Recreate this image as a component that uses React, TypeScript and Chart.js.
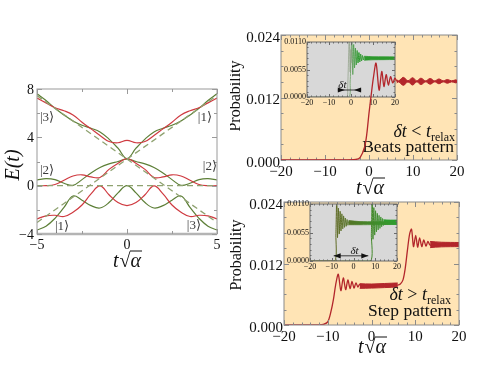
import React, { useEffect, useRef } from 'react';
import { Chart, registerables } from 'chart.js';

Chart.register(...registerables);

const SERIF = '"Liberation Serif", "DejaVu Serif", "Times New Roman", serif';

// ---------------- Left panel : E(t) ----------------
const T_LEFT = [-5, -4.5, -4, -3.5, -3, -2.5, -2, -1.5, -1, -0.5, 0, 0.5, 1, 1.5, 2, 2.5, 3, 3.5, 4, 4.5, 5];
const RED_UPPER = [7.25, 6.85, 6.45, 6.2, 5.85, 5.25, 4.7, 4.15, 3.65, 3.55, 3.75, 3.55, 3.65, 4.15, 4.7, 5.25, 5.85, 6.2, 6.45, 6.85, 7.25];
const GREEN_UPPER = [7.6, 7.05, 6.4, 5.85, 5.35, 5.0, 4.75, 4.45, 3.85, 3.1, 2.25, 3.1, 3.85, 4.45, 4.75, 5.0, 5.35, 5.85, 6.4, 7.05, 7.6];
const RED_MIDDLE = [0, 0, 0.1, 0.45, 0.8, 0.9, 0.72, 0.68, 1.35, 1.85, 2.25, 1.85, 1.35, 0.68, 0.72, 0.9, 0.8, 0.45, 0.1, 0, 0];
const GREEN_MIDDLE = [0.47, 0.58, 0.5, 0.2, 0.03, 0.5, 1.05, 1.5, 1.8, 2.0, 2.2, 2.0, 1.8, 1.5, 1.05, 0.5, 0.03, 0.2, 0.5, 0.58, 0.47];
const RED_LOWER = [-2.75, -2.5, -2.45, -2.55, -2.2, -1.6, -0.68, -0.02, -0.75, -1.4, -1.65, -1.4, -0.75, -0.02, -0.68, -1.6, -2.2, -2.55, -2.45, -2.5, -2.75];
const GREEN_LOWER = [-3.67, -3.35, -2.7, -1.8, -0.85, -1.2, -1.65, -1.85, -1.4, -0.6, 0, -0.6, -1.4, -1.85, -1.65, -1.2, -0.85, -1.8, -2.7, -3.35, -3.67];
const DIABATIC_T = [-5, 5];
const DIABATIC_RISING = [-3.05, 7.45];
const DIABATIC_FALLING = [7.45, -3.05];
const DIABATIC_FLAT = [0, 0];
const LEFT_X_TICKS = [-5, 0, 5];
const LEFT_Y_TICKS = [-4, 0, 4, 8];

// ---------------- Right panels : probability ----------------
const PROB_X_TICKS = [-20, -10, 0, 10, 20];
const PROB_Y_TICKS = [0, 0.012, 0.024];
const INSET_Y_TICKS = [0, 0.0055, 0.011];

// top: beats pattern
const TOP_T = [-20, -6, -3, -2, -1, -0.5, 0, 0.5, 1.0, 1.6, 2.3, 2.9, 3.4, 3.9, 4.4, 4.9, 5.4, 5.9, 6.3];
const TOP_P = [0, 0, 0.0001, 0.0005, 0.0025, 0.005, 0.009, 0.0125, 0.0158, 0.0186, 0.0134, 0.017, 0.0141, 0.0164, 0.0144, 0.016, 0.0148, 0.0157, 0.0151];
const TOP_BEAT_T = [6.3, 6.8, 7.8, 8.85, 9.9, 10.85, 11.8, 12.85, 13.9, 14.9, 15.9, 16.85, 17.8, 18.75, 19.7, 20];
const TOP_BEAT_MID = [0.0151, 0.0151, 0.0151, 0.0151, 0.0151, 0.0151, 0.0151, 0.0151, 0.0151, 0.0151, 0.0151, 0.0151, 0.0151, 0.0151, 0.0151, 0.0151];
const TOP_BEAT_HALF = [0.0003, 0.00012, 0.00077, 0.00011, 0.00071, 0.0001, 0.00061, 0.0001, 0.00054, 0.0001, 0.00046, 0.0001, 0.00036, 0.0001, 0.00029, 0.0002];

// bottom: step pattern
const BOT_T1 = [-20, -12, -11, -10, -9.3, -8.7, -8.2, -7.6, -7.0, -6.45, -5.9, -5.4, -4.9, -4.45, -4.0, -3.55, -3.1, -2.7];
const BOT_P1 = [0, 0, 0.0001, 0.0006, 0.0025, 0.005, 0.0078, 0.0099, 0.0067, 0.0092, 0.0069, 0.0088, 0.0071, 0.0085, 0.0072, 0.0082, 0.0074, 0.0079];
const BOT_PLATEAU1_T = [-2.7, 0, 3, 6];
const BOT_PLATEAU1_MID = [0.0076, 0.0076, 0.0077, 0.0078];
const BOT_PLATEAU1_HALF = [0.00045, 0.0004, 0.0004, 0.0004];
const BOT_T2 = [6, 6.6, 7.2, 7.7, 8.2, 8.7, 9.15, 9.6, 10.1, 10.55, 11.0, 11.5, 11.95, 12.45, 12.9, 13.4];
const BOT_P2 = [0.0078, 0.008, 0.0088, 0.011, 0.0145, 0.0177, 0.0187, 0.0153, 0.0175, 0.0152, 0.017, 0.0153, 0.0166, 0.0154, 0.0163, 0.0156];
const BOT_PLATEAU2_T = [13.4, 16, 20];
const BOT_PLATEAU2_MID = [0.0157, 0.0157, 0.0157];
const BOT_PLATEAU2_HALF = [0.0006, 0.00045, 0.0004];

// top inset
const TI_GHOST_T = [-20, -2.0, -1.5, -1.1, -0.8, -0.4, 0.0, 0.4];
const TI_GHOST_P = [0, 0, 0.002, 0.008, 0.0125, 0.005, 0.0095, 0.0068];
const TI_MAIN_T = [-20, -1.0, -0.4, 0.0, 0.35, 0.8, 1.2, 1.6, 2.0, 2.4, 2.8, 3.2, 3.6, 4.0, 4.4, 4.8, 5.2, 5.6, 6.0];
const TI_MAIN_P = [0, 0, 0.003, 0.008, 0.0125, 0.0045, 0.0105, 0.0058, 0.0098, 0.0064, 0.0093, 0.0068, 0.0089, 0.007, 0.0086, 0.0072, 0.0083, 0.0074, 0.0081];
const TI_BAND_T = [6, 10, 15, 20];
const TI_BAND_MID = [0.00775, 0.00775, 0.00775, 0.00775];
const TI_BAND_HALF = [0.0004, 0.0003, 0.00028, 0.00025];
const TI_ARROW_T = [-6, 4.6];
const TI_ARROW_P = 0.0014;
const TI_LABEL_AT = [-3.9, 0.0019];

// bottom inset
const BI_FIRST_T = [-20, -8.6, -8.1, -7.7, -7.35, -6.95, -6.55, -6.15, -5.75, -5.35, -4.95, -4.55, -4.15, -3.75, -3.35, -2.95, -2.55, -2.15];
const BI_FIRST_P = [0, 0, 0.005, 0.0125, 0.0045, 0.0102, 0.0052, 0.0096, 0.0058, 0.0091, 0.0062, 0.0087, 0.0065, 0.0083, 0.0067, 0.008, 0.0069, 0.0078];
const BI_FIRST_BAND_T = [-2.15, 3, 10, 20];
const BI_FIRST_BAND_MID = [0.0074, 0.0073, 0.0073, 0.0073];
const BI_FIRST_BAND_HALF = [0.0004, 0.0003, 0.00028, 0.00025];
const BI_SECOND_T = [-20, 7.7, 8.2, 8.6, 8.95, 9.35, 9.75, 10.15, 10.55, 10.95, 11.35, 11.75, 12.15, 12.55, 12.95, 13.35, 13.75];
const BI_SECOND_P = [0, 0, 0.005, 0.0125, 0.0042, 0.0103, 0.005, 0.0097, 0.0056, 0.0092, 0.006, 0.0088, 0.0063, 0.0085, 0.0066, 0.0082, 0.0068];
const BI_SECOND_BAND_T = [13.75, 17, 20];
const BI_SECOND_BAND_MID = [0.0075, 0.0075, 0.0075];
const BI_SECOND_BAND_HALF = [0.00045, 0.0004, 0.0004];
const BI_ARROW_T = [-9.1, 6.8];
const BI_ARROW_P = 0.001;
const BI_LABEL_AT = [0.5, 0.0014];

// ---------------- colours ----------------
const RED_L = '#cf3a40';
const GREEN_L = '#5d7f37';
const DASH_L = '#8fa270';
const RED_R = '#b3262b';
const ORANGE_BG = '#ffe4b5';
const GRAY_BG = '#d8d8d8';

type Box = { x: number; y: number; w: number; h: number };
type Area = { l: number; t: number; r: number; b: number };

const LEFT_BOX: Box = { x: 0, y: 60, w: 230, h: 260 };
const LEFT_AREA: Area = { l: 37, t: 89, r: 217, b: 234 };
const TOP_BOX: Box = { x: 230, y: 0, w: 260, h: 200 };
const TOP_AREA: Area = { l: 281, t: 35, r: 457, b: 160 };
const TI_BOX: Box = { x: 272, y: 36, w: 128, h: 74 };
const TI_AREA: Area = { l: 307, t: 42, r: 395, b: 97 };
const BOT_BOX: Box = { x: 230, y: 190, w: 260, h: 191 };
const BOT_AREA: Area = { l: 284, t: 202, r: 459, b: 325 };
const BI_BOX: Box = { x: 275, y: 198, w: 127, h: 76 };
const BI_AREA: Area = { l: 310, t: 204, r: 397, b: 261 };

const pts = (xs: number[], ys: number[]) => xs.map((x, i) => ({ x, y: ys[i] }));
const band = (xs: number[], mid: number[], half: number[], s: number) => xs.map((x, i) => ({ x, y: mid[i] + s * half[i] }));
const range = (a: number, b: number, st: number) => {
  const r: number[] = [];
  for (let v = a; v <= b + 1e-9; v += st) r.push(Math.round(v * 1e6) / 1e6);
  return r;
};
const minus = (s: string) => s.replace('-', '\u2212');

function axis(o: { min: number; max: number; ticks: number[]; fmt: (v: number) => string; size: number; fit: (s: any) => void; color?: string; padding?: number; labelOffset?: number }) {
  return {
    type: 'linear',
    min: o.min,
    max: o.max,
    grid: { display: false, drawTicks: false, tickLength: 0 },
    border: { display: false },
    afterBuildTicks: (s: any) => { s.ticks = o.ticks.map((v) => ({ value: v })); },
    afterFit: o.fit,
    ticks: {
      color: o.color ?? '#111',
      font: { family: SERIF, size: o.size },
      padding: o.padding ?? 3,
      autoSkip: false,
      maxRotation: 0,
      minRotation: 0,
      labelOffset: o.labelOffset ?? 0,
      callback: (v: any) => o.fmt(Number(v)),
    },
  };
}

type AxisSpec = { min: number; max: number; ticks: number[]; fmt: (v: number) => string; size: number; color?: string; padding?: number; labelOffset?: number };

type FrameSpec = { color: string; width: number; xMajor: number[]; xMinor: number[]; yMajor: number[]; yMinor: number[]; majorLen: number; minorLen: number; bottomWidth?: number; bottomColor?: string };

function deco(box: Box, spec: { bg?: string; frame?: FrameSpec; page?: (ctx: CanvasRenderingContext2D) => void; inChart?: (ctx: CanvasRenderingContext2D, chart: any) => void }) {
  return {
    id: 'deco',
    beforeDraw(chart: any) {
      if (!spec.bg) return;
      const a = chart.chartArea; const ctx = chart.ctx;
      ctx.save(); ctx.fillStyle = spec.bg; ctx.fillRect(a.left, a.top, a.right - a.left, a.bottom - a.top); ctx.restore();
    },
    afterDraw(chart: any) {
      const ctx: CanvasRenderingContext2D = chart.ctx; const a = chart.chartArea;
      const f = spec.frame;
      if (f) {
        ctx.save();
        ctx.strokeStyle = f.color; ctx.lineWidth = f.width;
        ctx.strokeRect(a.left, a.top, a.right - a.left, a.bottom - a.top);
        if (f.bottomWidth) {
          ctx.strokeStyle = f.bottomColor || f.color; ctx.lineWidth = f.bottomWidth;
          ctx.beginPath(); ctx.moveTo(a.left, a.bottom); ctx.lineTo(a.right, a.bottom); ctx.stroke();
        }
        ctx.strokeStyle = f.color; ctx.lineWidth = 1;
        const sx = chart.scales.x, sy = chart.scales.y;
        const xt = (v: number, len: number) => {
          const p = Math.round(sx.getPixelForValue(v)) + 0.5;
          ctx.beginPath(); ctx.moveTo(p, a.bottom); ctx.lineTo(p, a.bottom - len); ctx.moveTo(p, a.top); ctx.lineTo(p, a.top + len); ctx.stroke();
        };
        const yt = (v: number, len: number) => {
          const p = Math.round(sy.getPixelForValue(v)) + 0.5;
          ctx.beginPath(); ctx.moveTo(a.left, p); ctx.lineTo(a.left + len, p); ctx.moveTo(a.right, p); ctx.lineTo(a.right - len, p); ctx.stroke();
        };
        f.xMinor.forEach((v) => xt(v, f.minorLen));
        f.xMajor.forEach((v) => xt(v, f.majorLen));
        f.yMinor.forEach((v) => yt(v, f.minorLen));
        f.yMajor.forEach((v) => yt(v, f.majorLen));
        ctx.restore();
      }
      if (spec.inChart) { ctx.save(); spec.inChart(ctx, chart); ctx.restore(); }
      if (spec.page) { ctx.save(); ctx.translate(-box.x, -box.y); spec.page(ctx); ctx.restore(); }
    },
  };
}

function build(canvas: HTMLCanvasElement, box: Box, area: Area, x: AxisSpec, y: AxisSpec, datasets: any[], plugins: any[]) {
  const pad = { left: 0, top: area.t - box.y, right: box.x + box.w - area.r, bottom: 0 };
  const yw = area.l - box.x;
  const xh = box.y + box.h - area.b;
  return new Chart(canvas, {
    type: 'scatter',
    data: { datasets },
    options: {
      responsive: false,
      animation: false,
      devicePixelRatio: 1,
      events: [],
      layout: { padding: pad },
      plugins: { legend: { display: false }, tooltip: { enabled: false } },
      scales: {
        x: axis({ ...x, fit: (s: any) => { s.height = xh; } }),
        y: axis({ ...y, fit: (s: any) => { s.width = yw; } }),
      },
    } as any,
    plugins,
  });
}

function line(data: any[], color: any, width = 1.3, extra: any = {}) {
  return { data, showLine: true, borderColor: color, backgroundColor: color, borderWidth: width, pointRadius: 0, tension: 0.4, fill: false, ...extra };
}

type Seg = { t: string; font: string; dy?: number };
function rich(ctx: CanvasRenderingContext2D, segs: Seg[], x: number, y: number, align: 'left' | 'right' | 'center') {
  ctx.textAlign = 'left'; ctx.textBaseline = 'alphabetic';
  const ws = segs.map((s) => { ctx.font = s.font; return ctx.measureText(s.t).width; });
  const total = ws.reduce((a, b) => a + b, 0);
  let cx = align === 'left' ? x : align === 'right' ? x - total : x - total / 2;
  segs.forEach((s, i) => { ctx.font = s.font; ctx.fillText(s.t, cx, y + (s.dy || 0)); cx += ws[i]; });
}

function sqrtTitle(ctx: CanvasRenderingContext2D, cx: number, base: number, size: number) {
  const it = `italic ${size}px ${SERIF}`, rm = `${size}px ${SERIF}`;
  ctx.fillStyle = '#111'; ctx.strokeStyle = '#111';
  ctx.textAlign = 'left'; ctx.textBaseline = 'alphabetic';
  ctx.font = it; const wt = ctx.measureText('t').width;
  ctx.font = rm; const ws = ctx.measureText('\u221A').width;
  ctx.font = it; const wa = ctx.measureText('\u03B1').width;
  let x = cx - (wt + ws + wa + 1) / 2;
  ctx.font = it; ctx.fillText('t', x, base); x += wt + 1;
  ctx.font = rm; ctx.fillText('\u221A', x, base); x += ws;
  ctx.font = it; ctx.fillText('\u03B1', x, base);
  ctx.lineWidth = Math.max(1, size * 0.05);
  ctx.beginPath(); ctx.moveTo(x - 0.5, base - size * 0.8); ctx.lineTo(x + wa + 1, base - size * 0.8); ctx.stroke();
}

function rotText(ctx: CanvasRenderingContext2D, text: string, font: string, cx: number, cy: number) {
  ctx.save(); ctx.translate(cx, cy); ctx.rotate(-Math.PI / 2);
  ctx.font = font; ctx.fillStyle = '#111'; ctx.textAlign = 'center'; ctx.textBaseline = 'middle';
  ctx.fillText(text, 0, 0); ctx.restore();
}

function label(ctx: CanvasRenderingContext2D, text: string, x: number, y: number, align: CanvasTextAlign) {
  ctx.font = `13px ${SERIF}`; ctx.fillStyle = '#3a3a3a'; ctx.textAlign = align; ctx.textBaseline = 'middle';
  ctx.fillText(text, x, y);
}

function arrowAnn(ctx: CanvasRenderingContext2D, chart: any, ts: number[], p: number, inward: boolean, lab: number[]) {
  const sx = chart.scales.x, sy = chart.scales.y;
  const x1 = sx.getPixelForValue(ts[0]), x2 = sx.getPixelForValue(ts[1]), y = sy.getPixelForValue(p);
  ctx.strokeStyle = '#111'; ctx.fillStyle = '#111'; ctx.lineWidth = 0.8;
  ctx.beginPath(); ctx.moveTo(x1, y); ctx.lineTo(x2, y); ctx.stroke();
  const L = 7, H = 2.6;
  const tri = (base: number, tip: number) => { ctx.beginPath(); ctx.moveTo(base, y - H); ctx.lineTo(tip, y); ctx.lineTo(base, y + H); ctx.closePath(); ctx.fill(); };
  if (inward) { tri(x1, x1 + L); tri(x2, x2 - L); } else { tri(x1 + L, x1); tri(x2 - L, x2); }
  rich(ctx, [{ t: '\u03B4t', font: `italic 11px ${SERIF}` }], sx.getPixelForValue(lab[0]), sy.getPixelForValue(lab[1]), 'center');
}

const fmt3 = (v: number) => v.toFixed(3);
const fmt4 = (v: number) => v.toFixed(4);
const fmtInt = (v: number) => minus(String(Math.round(v)));

const probX: AxisSpec = { min: -20, max: 20, ticks: PROB_X_TICKS, fmt: fmtInt, size: 15, padding: 3 };
const probY: AxisSpec = { min: 0, max: 0.024, ticks: PROB_Y_TICKS, fmt: fmt3, size: 15, padding: 1, labelOffset: 3 };
const insetX: AxisSpec = { min: -20, max: 20, ticks: PROB_X_TICKS, fmt: fmtInt, size: 8, padding: 1 };
const insetY: AxisSpec = { min: 0, max: 0.011, ticks: INSET_Y_TICKS, fmt: fmt4, size: 8, padding: 1 };
const hidden = (a: AxisSpec): AxisSpec => ({ ...a, color: 'rgba(0,0,0,0)' });

const probFrame: FrameSpec = { color: '#8a8a8a', width: 1, xMajor: PROB_X_TICKS, xMinor: range(-20, 20, 2), yMajor: PROB_Y_TICKS, yMinor: range(0, 0.024, 0.003), majorLen: 5, minorLen: 2.5 };
const insetFrame: FrameSpec = { color: '#6a6a6a', width: 1, xMajor: PROB_X_TICKS, xMinor: range(-20, 20, 2), yMajor: INSET_Y_TICKS, yMinor: range(0, 0.011, 0.0011), majorLen: 3, minorLen: 1.5 };
const leftFrame: FrameSpec = { color: '#9a9a9a', width: 1, xMajor: LEFT_X_TICKS, xMinor: [-2.5, 2.5], yMajor: LEFT_Y_TICKS, yMinor: [-2, 2, 6], majorLen: 5, minorLen: 3, bottomWidth: 2.5, bottomColor: '#b4b4b4' };

function greenGrad(chart: any, t0: number, t1: number, c0: string, c1: string, fallback: string) {
  const a = chart.chartArea; if (!a) return fallback;
  const sx = chart.scales.x;
  const g = chart.ctx.createLinearGradient(sx.getPixelForValue(t0), 0, sx.getPixelForValue(t1), 0);
  g.addColorStop(0, c0); g.addColorStop(1, c1);
  return g;
}

export default function App() {
  const leftRef = useRef<HTMLCanvasElement>(null);
  const topRef = useRef<HTMLCanvasElement>(null);
  const topInsetRef = useRef<HTMLCanvasElement>(null);
  const topOverRef = useRef<HTMLCanvasElement>(null);
  const botRef = useRef<HTMLCanvasElement>(null);
  const botInsetRef = useRef<HTMLCanvasElement>(null);

  useEffect(() => {
    const charts: Chart[] = [];

    // ---- left ----
    charts.push(build(leftRef.current!, LEFT_BOX, LEFT_AREA,
      { min: -5, max: 5, ticks: LEFT_X_TICKS, fmt: fmtInt, size: 14, padding: 3 },
      { min: -4, max: 8, ticks: LEFT_Y_TICKS, fmt: fmtInt, size: 14, padding: 3, labelOffset: 1 },
      [
        line(pts(DIABATIC_T, DIABATIC_FLAT), DASH_L, 1.3, { borderDash: [6, 4], tension: 0 }),
        line(pts(DIABATIC_T, DIABATIC_RISING), DASH_L, 1.3, { borderDash: [6, 4], tension: 0 }),
        line(pts(DIABATIC_T, DIABATIC_FALLING), DASH_L, 1.3, { borderDash: [6, 4], tension: 0 }),
        line(pts(T_LEFT, RED_UPPER), RED_L, 1.2),
        line(pts(T_LEFT, RED_MIDDLE), RED_L, 1.2),
        line(pts(T_LEFT, RED_LOWER), RED_L, 1.2),
        line(pts(T_LEFT, GREEN_UPPER), GREEN_L, 1.2),
        line(pts(T_LEFT, GREEN_MIDDLE), GREEN_L, 1.2),
        line(pts(T_LEFT, GREEN_LOWER), GREEN_L, 1.2),
      ],
      [deco(LEFT_BOX, {
        frame: leftFrame,
        page: (ctx) => {
          rotText(ctx, 'E(t)', `italic 20px ${SERIF}`, 14, 165);
          sqrtTitle(ctx, 127, 267, 20);
          label(ctx, '|3\u27E9', 40, 118, 'left');
          label(ctx, '|2\u27E9', 40, 171, 'left');
          label(ctx, '|1\u27E9', 55, 227, 'left');
          label(ctx, '|1\u27E9', 212, 118, 'right');
          label(ctx, '|2\u27E9', 217, 167, 'right');
          label(ctx, '|3\u27E9', 201, 226, 'right');
        },
      })]));

    // ---- top right main (background, frame, text) ----
    charts.push(build(topRef.current!, TOP_BOX, TOP_AREA, probX, probY, [],
      [deco(TOP_BOX, {
        bg: ORANGE_BG, frame: probFrame,
        page: (ctx) => {
          ctx.fillStyle = '#111';
          rotText(ctx, 'Probability', `16px ${SERIF}`, 236, 96);
          sqrtTitle(ctx, 370, 194, 20);
          ctx.fillStyle = '#111';
          rich(ctx, [
            { t: '\u03B4t', font: `italic 18px ${SERIF}` },
            { t: ' < ', font: `18px ${SERIF}` },
            { t: 't', font: `italic 18px ${SERIF}` },
            { t: 'relax', font: `12px ${SERIF}`, dy: 4 },
          ], 455, 137, 'right');
          rich(ctx, [{ t: 'Beats pattern', font: `17.5px ${SERIF}` }], 454, 152, 'right');
        },
      })]));

    // ---- top inset ----
    const tiGreen = (c: any) => greenGrad(c.chart, -2, 3, '#a3b09a', '#2c982c', '#2c982c');
    charts.push(build(topInsetRef.current!, TI_BOX, TI_AREA, insetX, insetY,
      [
        line(pts(TI_GHOST_T, TI_GHOST_P), 'rgba(130,150,120,0.7)', 0.9, { tension: 0.2 }),
        line(pts(TI_MAIN_T, TI_MAIN_P), tiGreen, 1, { tension: 0.2 }),
        line(band(TI_BAND_T, TI_BAND_MID, TI_BAND_HALF, 1), '#2c982c', 0.8, { tension: 0.3 }),
        line(band(TI_BAND_T, TI_BAND_MID, TI_BAND_HALF, -1), '#2c982c', 0.8, { tension: 0.3, fill: '-1', backgroundColor: '#2c982c' }),
      ],
      [deco(TI_BOX, { bg: GRAY_BG, frame: insetFrame, inChart: (ctx, chart) => arrowAnn(ctx, chart, TI_ARROW_T, TI_ARROW_P, true, TI_LABEL_AT) })]));

    // ---- top overlay (red curve above inset) ----
    charts.push(build(topOverRef.current!, TOP_BOX, TOP_AREA, hidden(probX), hidden(probY),
      [
        line(pts(TOP_T, TOP_P), RED_R, 1.3, { tension: 0.3 }),
        line(band(TOP_BEAT_T, TOP_BEAT_MID, TOP_BEAT_HALF, 1), RED_R, 1, { tension: 0.4 }),
        line(band(TOP_BEAT_T, TOP_BEAT_MID, TOP_BEAT_HALF, -1), RED_R, 1, { tension: 0.4, fill: '-1', backgroundColor: RED_R }),
      ], []));

    // ---- bottom right main ----
    const botLine = [
      ...pts(BOT_T1, BOT_P1),
      ...pts(BOT_PLATEAU1_T, BOT_PLATEAU1_MID).slice(1),
      ...pts(BOT_T2, BOT_P2).slice(1),
      ...pts(BOT_PLATEAU2_T, BOT_PLATEAU2_MID).slice(1),
    ];
    charts.push(build(botRef.current!, BOT_BOX, BOT_AREA, probX, probY,
      [
        line(botLine, RED_R, 1.3, { tension: 0.3 }),
        line(band(BOT_PLATEAU1_T, BOT_PLATEAU1_MID, BOT_PLATEAU1_HALF, 1), RED_R, 1, { tension: 0.3 }),
        line(band(BOT_PLATEAU1_T, BOT_PLATEAU1_MID, BOT_PLATEAU1_HALF, -1), RED_R, 1, { tension: 0.3, fill: '-1', backgroundColor: RED_R }),
        line(band(BOT_PLATEAU2_T, BOT_PLATEAU2_MID, BOT_PLATEAU2_HALF, 1), RED_R, 1, { tension: 0.3 }),
        line(band(BOT_PLATEAU2_T, BOT_PLATEAU2_MID, BOT_PLATEAU2_HALF, -1), RED_R, 1, { tension: 0.3, fill: '-1', backgroundColor: RED_R }),
      ],
      [deco(BOT_BOX, {
        bg: ORANGE_BG, frame: probFrame,
        page: (ctx) => {
          rotText(ctx, 'Probability', `16px ${SERIF}`, 237, 255);
          sqrtTitle(ctx, 372, 353, 20);
          ctx.fillStyle = '#111';
          rich(ctx, [
            { t: '\u03B4t', font: `italic 18px ${SERIF}` },
            { t: ' > ', font: `18px ${SERIF}` },
            { t: 't', font: `italic 18px ${SERIF}` },
            { t: 'relax', font: `12px ${SERIF}`, dy: 4 },
          ], 451, 300, 'right');
          rich(ctx, [{ t: 'Step pattern', font: `17.5px ${SERIF}` }], 452, 316, 'right');
        },
      })]));

    // ---- bottom inset ----
    const biCol = (c: any) => greenGrad(c.chart, -8, 20, '#5f6a24', '#2f9e2f', '#4f8a2f');
    charts.push(build(botInsetRef.current!, BI_BOX, BI_AREA, insetX, insetY,
      [
        line(pts(BI_FIRST_T, BI_FIRST_P), biCol, 1, { tension: 0.2 }),
        line(band(BI_FIRST_BAND_T, BI_FIRST_BAND_MID, BI_FIRST_BAND_HALF, 1), biCol, 0.8, { tension: 0.3 }),
        line(band(BI_FIRST_BAND_T, BI_FIRST_BAND_MID, BI_FIRST_BAND_HALF, -1), biCol, 0.8, { tension: 0.3, fill: '-1', backgroundColor: biCol }),
        line(pts(BI_SECOND_T, BI_SECOND_P), biCol, 1, { tension: 0.2 }),
        line(band(BI_SECOND_BAND_T, BI_SECOND_BAND_MID, BI_SECOND_BAND_HALF, 1), '#2f9e2f', 0.8, { tension: 0.3 }),
        line(band(BI_SECOND_BAND_T, BI_SECOND_BAND_MID, BI_SECOND_BAND_HALF, -1), '#2f9e2f', 0.8, { tension: 0.3, fill: '-1', backgroundColor: '#2f9e2f' }),
      ],
      [deco(BI_BOX, { bg: GRAY_BG, frame: insetFrame, inChart: (ctx, chart) => arrowAnn(ctx, chart, BI_ARROW_T, BI_ARROW_P, false, BI_LABEL_AT) })]));

    return () => { charts.forEach((c) => c.destroy()); };
  }, []);

  const cv = (ref: React.RefObject<HTMLCanvasElement | null>, b: Box, z: number) => (
    <canvas ref={ref} width={b.w} height={b.h} style={{ position: 'absolute', left: b.x, top: b.y, width: b.w, height: b.h, zIndex: z }} />
  );

  return (
    <div style={{ position: 'fixed', left: 0, top: 0, width: 490, height: 381, background: '#fff', overflow: 'hidden' }}>
      {cv(leftRef, LEFT_BOX, 1)}
      {cv(topRef, TOP_BOX, 1)}
      {cv(botRef, BOT_BOX, 2)}
      {cv(topInsetRef, TI_BOX, 3)}
      {cv(topOverRef, TOP_BOX, 4)}
      {cv(botInsetRef, BI_BOX, 5)}
    </div>
  );
}
